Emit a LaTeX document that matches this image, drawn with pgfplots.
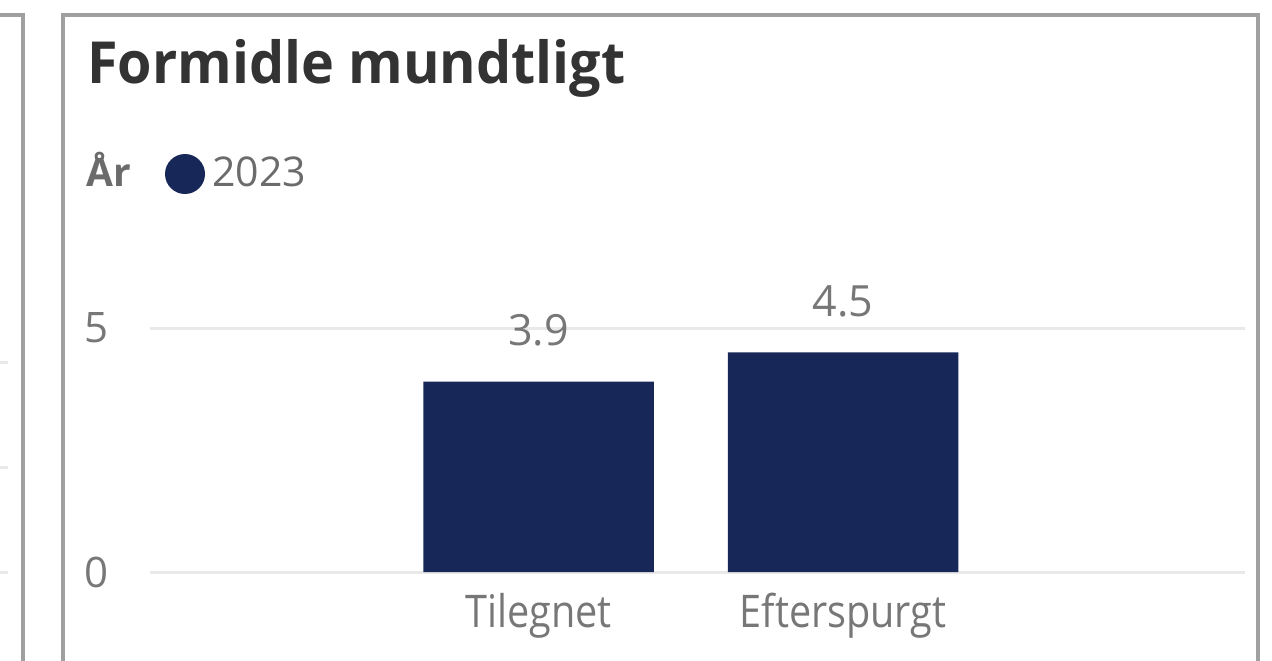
\documentclass[border=0pt]{standalone}
\usepackage{pgfplots}
\pgfplotsset{compat=1.18}
\usepackage{fontspec}
\setmainfont{Open Sans}
\newfontfamily\narrowfont{Open Sans}[FakeStretch=0.88]
\newfontfamily\titlefont{Open Sans}[FakeStretch=0.96]
\definecolor{navy}{HTML}{172858}
\definecolor{txtgray}{HTML}{777777}
\definecolor{leggray}{HTML}{6B6B6B}
\definecolor{titlegray}{HTML}{333333}
\definecolor{bordergray}{HTML}{A0A0A0}
\definecolor{gridgray}{HTML}{E9E9E9}
\begin{document}
\begin{tikzpicture}
\path[use as bounding box] (0,0) rectangle (1272pt,-661pt);
\fill[white] (0,0) rectangle (1272pt,-661pt);
% left neighbouring panel
\draw[gridgray, line width=3pt] (0pt,-362pt) -- (8pt,-362pt);
\draw[gridgray, line width=3pt] (0pt,-467pt) -- (8pt,-467pt);
\draw[gridgray, line width=3pt] (0pt,-572pt) -- (8pt,-572pt);
\draw[bordergray, line width=3.5pt] (-5pt,-15pt) -- (23pt,-15pt) -- (23pt,-670pt);
% main panel
\draw[bordergray, line width=3.5pt] (63pt,-670pt) -- (63pt,-15pt) -- (1258pt,-15pt) -- (1258pt,-670pt);
% title
\node[anchor=base west, inner sep=0pt, text=titlegray, font=\titlefont\fontsize{58}{62}\selectfont\bfseries] at (87pt,-84pt) {Formidle mundtligt};
% legend
\node[anchor=base west, inner sep=0pt, text=leggray, font=\fontsize{39}{42}\selectfont\bfseries] at (86pt,-186pt) {År};
\fill[navy] (185pt,-174pt) circle (20pt);
\node[anchor=base west, inner sep=0pt, text=leggray, font=\fontsize{41}{44}\selectfont] at (212pt,-186pt) {2023};
\begin{axis}[
  at={(150pt,-572pt)}, anchor=south west,
  scale only axis, width=1095pt, height=292.8pt,
  xmin=-1.276, xmax=2.320, ymin=0, ymax=6,
  axis line style={draw=none},
  major tick length=0pt,
  tick style={draw=none},
  ytick={0,5},
  xtick={0,1},
  xticklabels={Tilegnet,Efterspurgt},
  ymajorgrids,
  major grid style={gridgray, line width=3pt},
  /pgf/number format/assume math mode=true,
  yticklabel style={anchor=east, inner sep=0pt, xshift=-41pt, text=txtgray, font=\fontsize{42}{46}\selectfont},
  xticklabel style={anchor=base, inner sep=0pt, yshift=-55pt, text=txtgray, font=\narrowfont\fontsize{45}{48}\selectfont},
  ybar, bar width=0.757,
  clip=false,
  nodes near coords,
  every node near coord/.append style={anchor=base, inner sep=0pt, yshift=36pt, text=txtgray, font=\fontsize{43}{46}\selectfont},
]
\addplot[fill=navy, draw=none] coordinates {(0,3.9) (1,4.5)};
\end{axis}
\end{tikzpicture}
\end{document}
